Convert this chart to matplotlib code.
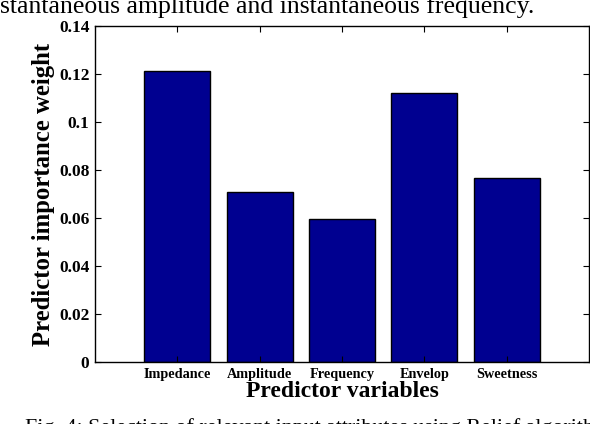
import matplotlib
matplotlib.use("Agg")
import matplotlib.pyplot as plt

categories = ["Impedance", "Amplitude", "Frequency", "Envelop", "Sweetness"]
weights = [0.1213, 0.0708, 0.0595, 0.1120, 0.0765]
yticks = [0, 0.02, 0.04, 0.06, 0.08, 0.1, 0.12, 0.14]
ytick_labels = ["0", "0.02", "0.04", "0.06", "0.08", "0.1", "0.12", "0.14"]

plt.rcParams['font.family'] = ['Liberation Serif', 'DejaVu Serif']

fig = plt.figure(figsize=(5.9, 4.24), dpi=100)
ax = fig.add_axes([95/590, 1-362/424, 494/590, 336/424])

pos = list(range(1, len(categories) + 1))
ax.bar(pos, weights, width=0.8, color='#000090', edgecolor='black', linewidth=1.0)
ax.set_xlim(0, 6)
ax.set_ylim(0, 0.14)
ax.set_xticks(pos)
ax.set_xticklabels(categories, fontsize=10.3, fontweight='bold')
ax.set_yticks(yticks)
ax.set_yticklabels(ytick_labels, fontsize=12.5, fontweight='bold')
ax.tick_params(direction='in', top=True, right=True, length=4, width=0.8, pad=4)
for s in ax.spines.values():
    s.set_linewidth(1.0)
ax.set_xlabel("Predictor variables", fontsize=17, fontweight='bold', labelpad=0)
ax.set_ylabel("Predictor importance weight", fontsize=17.8, fontweight='bold', labelpad=3)

fig.text(0.0, 1 - 12.5/424, "stantaneous amplitude and instantaneous frequency.",
         fontsize=18.5, ha='left', va='baseline')
fig.text(25/590, 1 - 433/424, "Fig. 4: Selection of relevant input attributes using Relief algorithm",
         fontsize=15.8, ha='left', va='baseline')

fig.savefig("out.png", dpi=100)
